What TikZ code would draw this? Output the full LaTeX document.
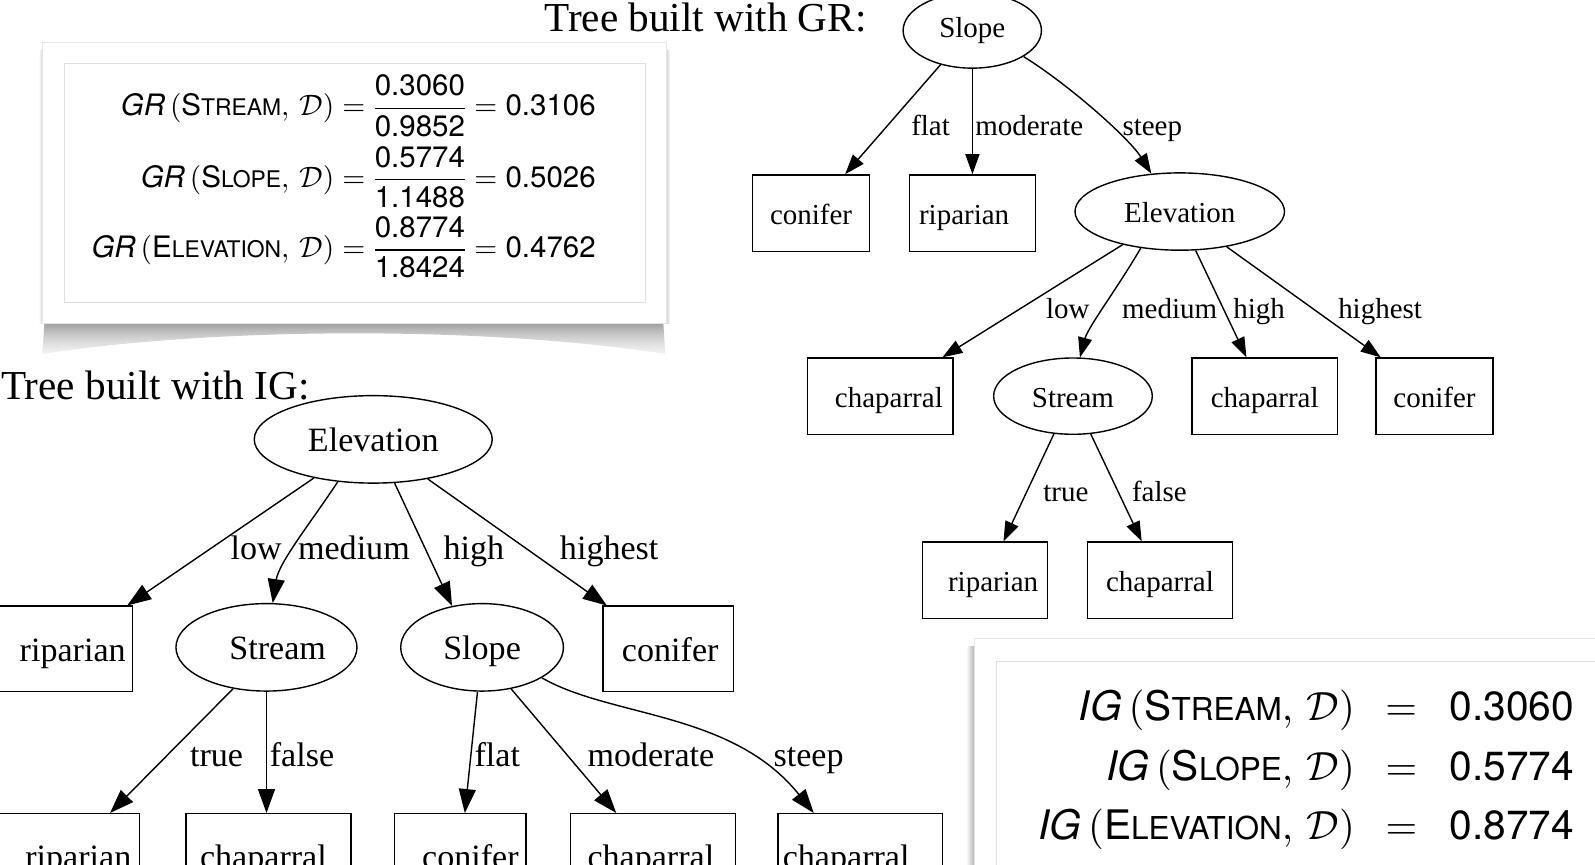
\documentclass[tikz,border=0pt]{standalone}
\usepackage{amsmath}
\usepackage{fontspec}
\setmainfont{Liberation Serif}
\newfontfamily\hv{TeX Gyre Heros}
\DeclareFontShape{OML}{cmm}{m}{it}{<->cmmi10}{}
\DeclareFontShape{OMS}{cmsy}{m}{n}{<->cmsy10}{}
\DeclareFontShape{OMX}{cmex}{m}{n}{<->cmex10}{}
\DeclareFontShape{OT1}{cmr}{m}{n}{<->cmr10}{}
\usetikzlibrary{shapes.geometric,arrows.meta,fadings}
\tikzfading[name=fadedown, top color=transparent!0, bottom color=transparent!70]
\newcommand\scA[1]{{\fontsize{22.5}{22.5}\selectfont #1}}
\newcommand\scB[1]{{\fontsize{31}{31}\selectfont #1}}
\newcommand\rt[2]{\hspace*{#1pt}#2}
\newcommand\lt[2]{#2\hspace*{#1pt}}
\tikzset{
  grf/.style={font=\fontsize{28.5}{34}\selectfont},
  igf/.style={font=\fontsize{33.5}{40}\selectfont},
  leaf/.style={draw, rectangle, line width=1.4pt, inner sep=0pt},
  test/.style={draw, ellipse, line width=1.4pt, inner sep=0pt},
  grtxt/.style={text height=22pt, text depth=0pt},
  igtxt/.style={text height=24pt, text depth=0pt},
  arrA/.style={line width=1.4pt, -{Triangle[length=20pt,width=14pt]}},
  arrB/.style={line width=1.4pt, -{Triangle[length=24pt,width=17pt]}},
  lbl/.style={anchor=base, inner sep=0pt},
  eqA/.style={font=\hv\fontsize{29}{35}\selectfont, inner sep=0pt, anchor=base east},
  eqB/.style={font=\hv\fontsize{40}{48}\selectfont, inner sep=0pt, anchor=base east},
  ttl/.style={font=\fontsize{40.5}{48}\selectfont, inner sep=0pt, anchor=base west}
}
\begin{document}
\begin{tikzpicture}[x=1pt,y=-1pt,scale=1.017,every node/.append style={transform shape}]
\useasboundingbox (0,0) rectangle (1568.3,850.5);
\clip (0,0) rectangle (1568.3,850.5);
\fill[white] (0,0) rectangle (1568.3,850.5);

% ---------- GR panel ----------
\shade[top color=gray!80, bottom color=gray!30, path fading=fadedown] (44,316) -- (653,316) -- (655,348) .. controls (480,321) and (220,321) .. (42,348) -- cycle;
\shade[left color=white, right color=gray!35] (38,50) rectangle (42,318);
\shade[left color=gray!35, right color=white] (655,50) rectangle (659,318);
\draw[fill=white, draw=gray!20, line width=0.8pt] (42,42) rectangle (655,318);
\draw[draw=gray!25, line width=0.8pt] (63,62) rectangle (635,297);
\node[eqA] (gr1) at (586,114) {$\mbox{\itshape GR}\,(\mbox{S\scA{TREAM}},\,\mathcal{D}) = \dfrac{\mbox{0.3060}}{\mbox{0.9852}} = \mbox{0.3106}$};
\node[eqA] (gr2) at (586,184) {$\mbox{\itshape GR}\,(\mbox{S\scA{LOPE}},\,\mathcal{D}) = \dfrac{\mbox{0.5774}}{\mbox{1.1488}} = \mbox{0.5026}$};
\node[eqA] (gr3) at (586,253) {$\mbox{\itshape GR}\,(\mbox{E\scA{LEVATION}},\,\mathcal{D}) = \dfrac{\mbox{0.8774}}{\mbox{1.8424}} = \mbox{0.4762}$};

% ---------- IG panel ----------
\shade[left color=white, right color=gray!60] (950,636) rectangle (958,860);
\draw[fill=white, draw=gray!20, line width=0.8pt] (958,628) rectangle (1600,880);
\draw[draw=gray!25, line width=0.8pt] (980,650) rectangle (1600,880);
\node[eqB] (ig1) at (1548,708) {$\mbox{\itshape IG}\,(\mbox{S\scB{TREAM}},\,\mathcal{D})\hspace{30pt}{=}\hspace{32pt}\mbox{0.3060}$};
\node[eqB] (ig2) at (1548,767) {$\mbox{\itshape IG}\,(\mbox{S\scB{LOPE}},\,\mathcal{D})\hspace{30pt}{=}\hspace{32pt}\mbox{0.5774}$};
\node[eqB] (ig3) at (1548,825) {$\mbox{\itshape IG}\,(\mbox{E\scB{LEVATION}},\,\mathcal{D})\hspace{30pt}{=}\hspace{32pt}\mbox{0.8774}$};

% ---------- titles ----------
\node[ttl] (tGR) at (535,30.5) {Tree built with GR:};
\node[ttl] (tIG) at (1,393) {Tree built with IG:};

% ---------- GR tree ----------
\begin{scope}[grf]
\node[test, text height=14pt, text depth=0pt, minimum width=136pt, minimum height=74pt] (slopeGR) at (956,30) {Slope};
\node[leaf, grtxt, minimum width=115pt, minimum height=75pt] (conGR) at (797.5,209.5) {conifer};
\node[leaf, grtxt, minimum width=124pt, minimum height=75pt] (ripGR) at (956,209.5) {\lt{16}{riparian}};
\node[test, grtxt, minimum width=206pt, minimum height=76pt] (elevGR) at (1160,208) {Elevation};
\node[leaf, grtxt, minimum width=143pt, minimum height=75pt] (chapGRa) at (865.5,389.5) {\rt{17}{chaparral}};
\node[test, grtxt, minimum width=156pt, minimum height=75pt] (streamGR) at (1055,389.5) {Stream};
\node[leaf, grtxt, minimum width=143pt, minimum height=75pt] (chapGRb) at (1243.5,389.5) {chaparral};
\node[leaf, grtxt, minimum width=115pt, minimum height=75pt] (conGRb) at (1410.5,389.5) {conifer};
\node[leaf, grtxt, minimum width=123pt, minimum height=75pt] (ripGRb) at (968.5,570.5) {\rt{16}{riparian}};
\node[leaf, grtxt, minimum width=143pt, minimum height=75pt] (chapGRc) at (1140.5,570.5) {chaparral};

\draw[arrA] (slopeGR.-133) -- (conGR);
\draw[arrA] (slopeGR.south) -- (ripGR.north);
\draw[arrA] (slopeGR.-27) .. controls +(45,28) and +(-22,-35) .. (elevGR.127);
\draw[arrA] (elevGR.-150) -- (chapGRa);
\draw[arrA] (elevGR.-137) .. controls +(-22,38) and +(8,-30) .. (streamGR.80);
\draw[arrA] (elevGR.-68) -- (chapGRb);
\draw[arrA] (elevGR.-37) -- (conGRb);
\draw[arrA] (streamGR.-117) -- (ripGRb);
\draw[arrA] (streamGR.-65) -- (chapGRc);

\node[lbl] (lflatGR) at (915,133) {flat};
\node[lbl] (lmodGR) at (1012,133) {moderate};
\node[lbl] (lsteepGR) at (1133,133) {steep};
\node[lbl] (llowGR) at (1050,313) {low};
\node[lbl] (lmedGR) at (1150,313) {medium};
\node[lbl] (lhighGR) at (1238,313) {high};
\node[lbl] (lhstGR) at (1357,313) {highest};
\node[lbl] (ltrueGR) at (1048,493) {true};
\node[lbl] (lfalseGR) at (1140,493) {false};
\end{scope}

% ---------- IG tree ----------
\begin{scope}[igf]
\node[test, igtxt, minimum width=234pt, minimum height=86pt] (elevIG) at (367,432) {Elevation};
\node[leaf, igtxt, minimum width=135pt, minimum height=84pt] (ripIGa) at (62.5,638) {\rt{18}{riparian}};
\node[test, igtxt, minimum width=178pt, minimum height=86pt] (streamIG) at (262,636.5) {\rt{22}{Stream}};
\node[test, igtxt, minimum width=160pt, minimum height=86pt] (slopeIG) at (474,636.5) {Slope};
\node[leaf, igtxt, minimum width=128pt, minimum height=84pt] (conIGa) at (657,638) {\rt{4}{conifer}};
\node[leaf, igtxt, minimum width=142pt, minimum height=84pt] (ripIGb) at (66,842) {\rt{22}{riparian}};
\node[leaf, igtxt, minimum width=162pt, minimum height=84pt] (chapIGa) at (264,842) {\lt{10}{chaparral}};
\node[leaf, igtxt, minimum width=129pt, minimum height=84pt] (conIGb) at (452.5,842) {\rt{20}{conifer}};
\node[leaf, igtxt, minimum width=162pt, minimum height=84pt] (chapIGb) at (642,842) {\lt{4}{chaparral}};
\node[leaf, igtxt, minimum width=162pt, minimum height=84pt] (chapIGc) at (846,842) {\lt{28}{chaparral}};

\draw[arrB] (elevIG.-147) -- (ripIGa);
\draw[arrB] (elevIG.-130) .. controls +(-25,38) and +(6,-40) .. (streamIG.82);
\draw[arrB] (elevIG.-64) -- (slopeIG.126);
\draw[arrB] (elevIG.-36) -- (conIGa);
\draw[arrB] (streamIG.-129) -- (ripIGb);
\draw[arrB] (streamIG.south) -- (streamIG.south |- chapIGa.north);
\draw[arrB] (slopeIG.-96) -- (conIGb);
\draw[arrB] (slopeIG.-55) -- (chapIGb);
\draw[arrB] (slopeIG.-27) .. controls +(68,39) and +(-80,-100) .. ([xshift=-46pt]chapIGc.north);

\node[lbl] (llowIG) at (252,550) {low};
\node[lbl] (lmedIG) at (348,550) {medium};
\node[lbl] (lhighIG) at (466,550) {high};
\node[lbl] (lhstIG) at (599,550) {highest};
\node[lbl] (ltrueIG) at (213,754) {true};
\node[lbl] (lfalseIG) at (297,754) {false};
\node[lbl] (lflatIG) at (489,754) {flat};
\node[lbl] (lmodIG) at (640,754) {moderate};
\node[lbl] (lsteepIG) at (795,754) {steep};
\end{scope}
\end{tikzpicture}
\end{document}
